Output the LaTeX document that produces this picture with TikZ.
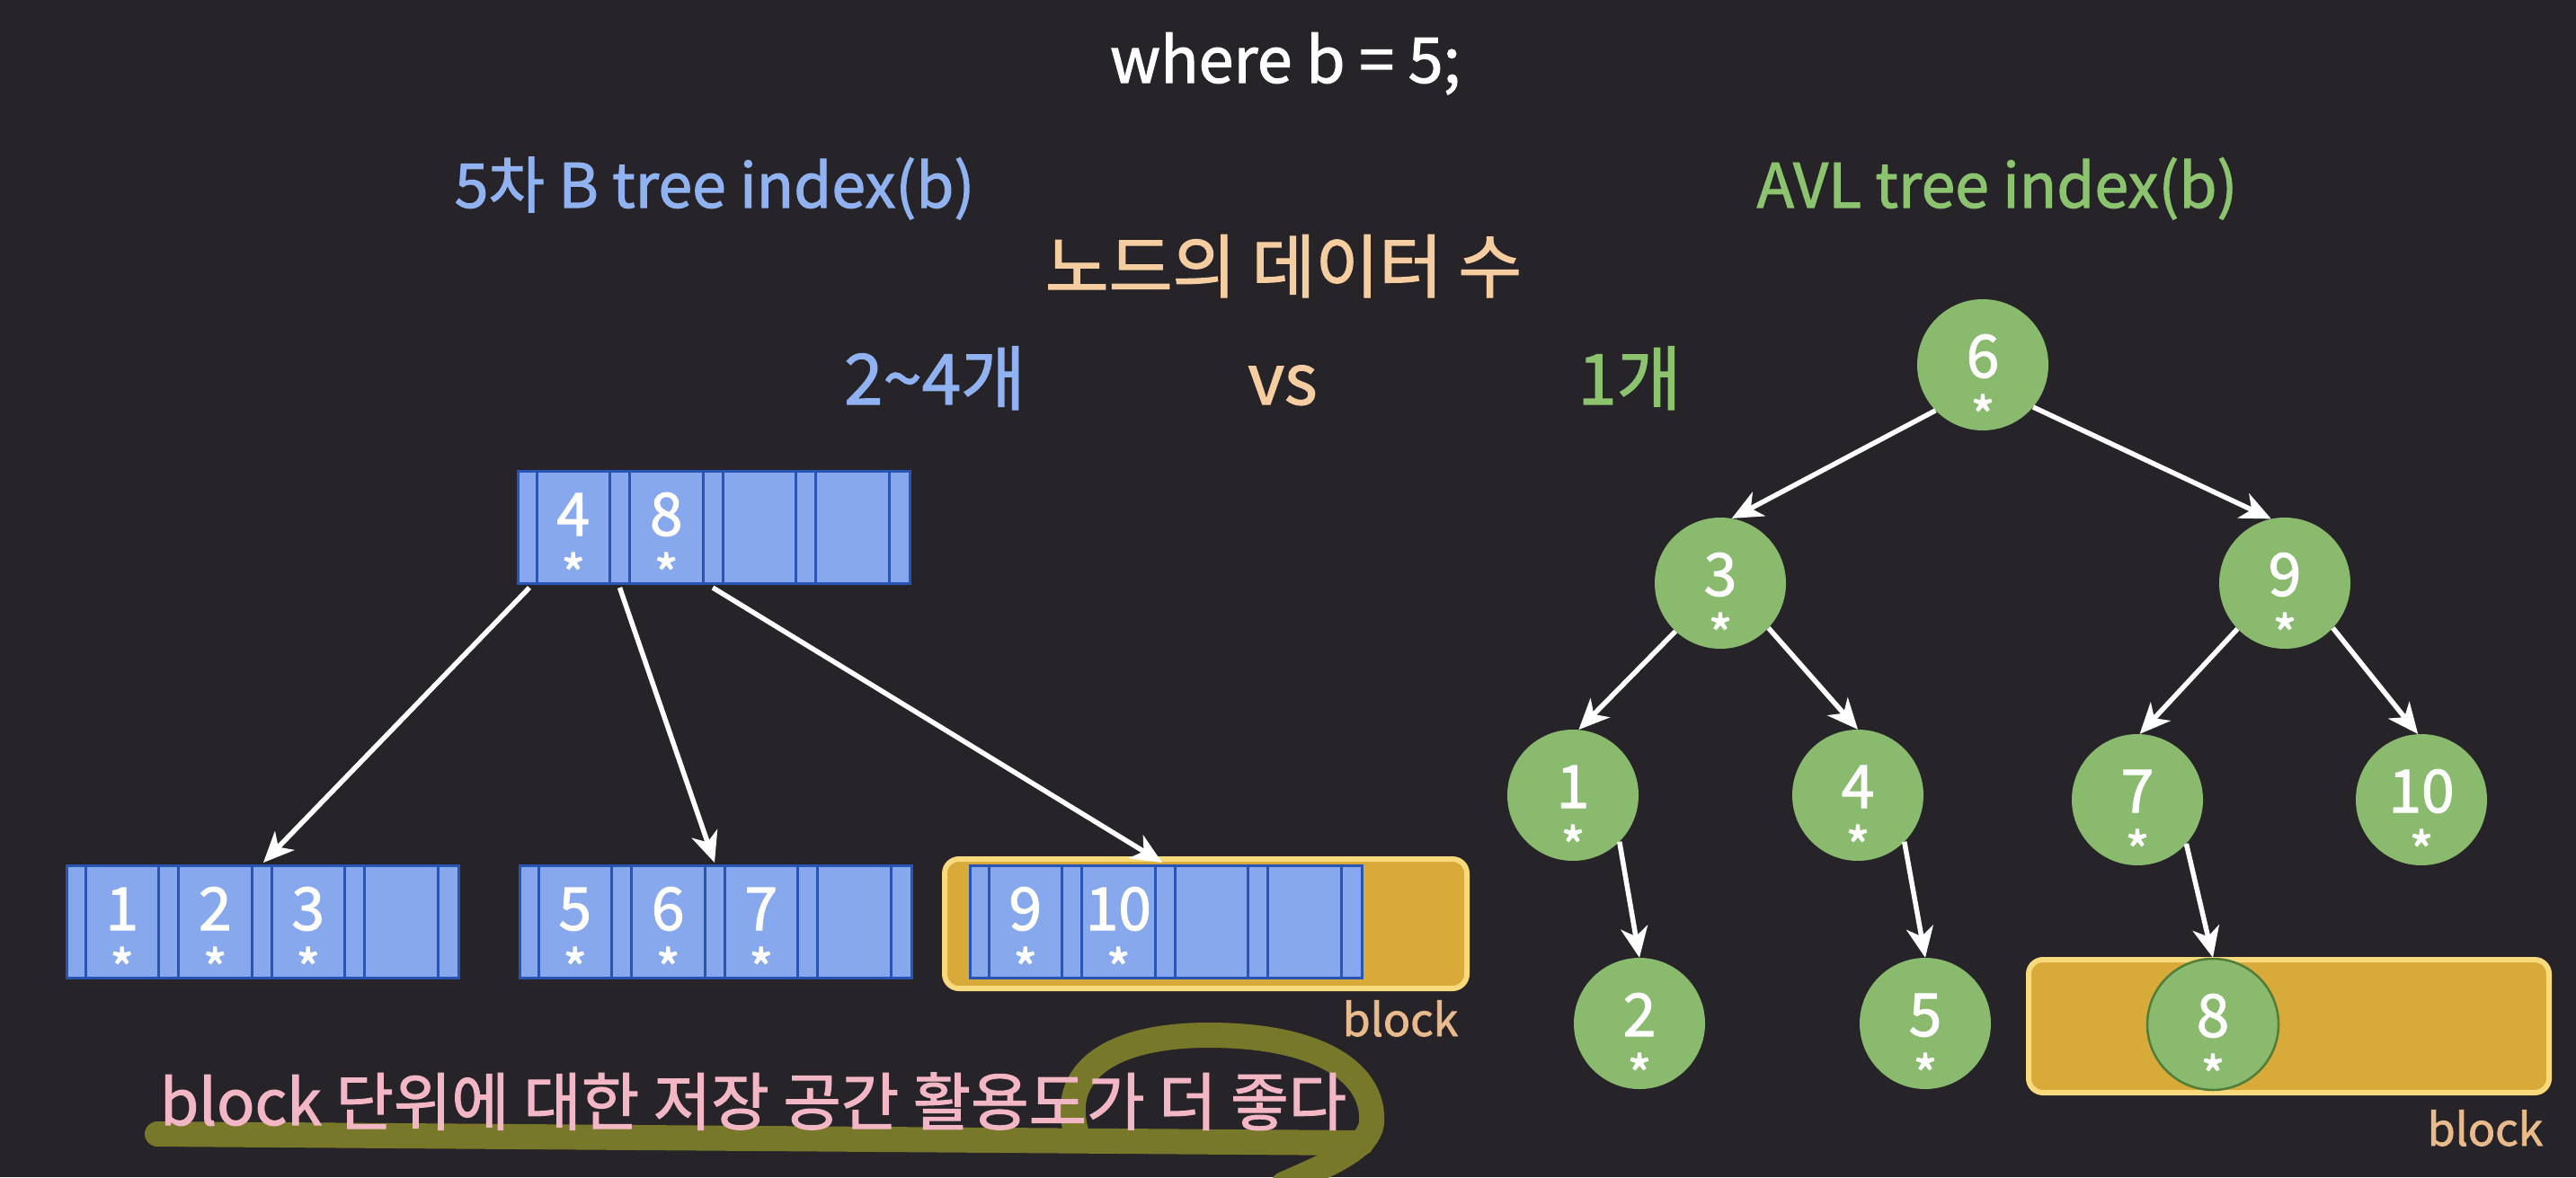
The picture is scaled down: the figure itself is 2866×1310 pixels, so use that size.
\documentclass[tikz,border=0pt]{standalone}
\usepackage{fontspec}
\setmainfont{Noto Sans CJK KR}[FakeBold=1.6]
\usetikzlibrary{arrows.meta,calc}
\definecolor{bg}{RGB}{38,36,40}
\definecolor{btxt}{RGB}{145,178,240}
\definecolor{bfill}{RGB}{135,168,236}
\definecolor{bline}{RGB}{40,85,180}
\definecolor{gtxt}{RGB}{140,195,110}
\definecolor{gfill}{RGB}{138,186,110}
\definecolor{gline}{RGB}{80,125,55}
\definecolor{tan}{RGB}{245,205,160}
\definecolor{tanb}{RGB}{233,187,140}
\definecolor{yfill}{RGB}{215,170,58}
\definecolor{yline}{RGB}{248,218,125}
\definecolor{pinkt}{RGB}{242,182,196}
\definecolor{olive}{RGB}{120,120,42}
\newcommand\bnode[3]{%
  \node[bbox] (#1) at (#2,#3) {};
  \foreach \xx in {22,103.5,125.5,207,229,310.5,332.5,414}{%
    \draw[bsep] ($(#1.north west)+(\xx,0)$) -- ($(#1.south west)+(\xx,0)$);}
  \foreach \i/\xx in {0/11,1/114.5,2/218,3/321.5,4/425}{%
    \coordinate (#1-t\i) at ($(#1.north west)+(\xx,0)$);
    \coordinate (#1-b\i) at ($(#1.south west)+(\xx,0)$);}
}
\newcommand\bkey[3]{%
  \node[keyt] at ($(#1.north west)+({62.75+103.5*#2},73)$) {#3};
  \node[astx] at ($(#1.north west)+({62.75+103.5*#2},138)$) {*};
}
\newcommand\avlnode[5][]{%
  \node[avl,#1] (#2) at (#3,#4) {};
  \node[keyt] at ($(#2)+(0,14)$) {#5};
  \node[astx] at ($(#2)+(0,79)$) {*};
}
\begin{document}
\begin{tikzpicture}[x=1pt,y=-1pt,
  bbox/.style={draw=bline, line width=3pt, fill=bfill, minimum width=436pt, minimum height=125pt, inner sep=0pt, anchor=north west},
  bsep/.style={draw=bline, line width=3pt},
  keyt/.style={text=white, font=\fontsize{66}{70}\selectfont, anchor=base, inner sep=0pt},
  astx/.style={text=white, font=\fontsize{58}{60}\selectfont, anchor=base, inner sep=0pt},
  avl/.style={circle, fill=gfill, minimum size=146pt, inner sep=0pt},
  arr/.style={draw=white, line width=5.5pt, -{Stealth[length=34pt,width=30pt,inset=10pt]}},
  blockbox/.style={fill=yfill, draw=yline, line width=6pt, rounded corners=16pt},
  hl/.style={draw=olive, line width=28pt, line cap=round, line join=round},
  txt/.style={anchor=base, inner sep=0pt}]
\fill[bg] (0,0) rectangle (2866,1310);
\useasboundingbox (0,0) rectangle (2866,1310);
% texts
\node[txt, text=white, font=\fontsize{70}{74}\selectfont] (title) at (1430,92) {where b = 5;};
\node[txt, text=btxt, font=\fontsize{68}{72}\selectfont] (bhead) at (795,231) {5차 B tree index(b)};
\node[txt, text=gtxt, font=\fontsize{68}{72}\selectfont] (ahead) at (2222,231) {AVL tree index(b)};
\node[txt, text=tan, font=\fontsize{77}{80}\selectfont] (ndata) at (1428,325) {노드의 데이터 수};
\node[txt, text=btxt, font=\fontsize{78}{82}\selectfont] (cnt1) at (1040,450) {2\textasciitilde4개};
\node[txt, text=tan, font=\fontsize{78}{82}\selectfont] (vs) at (1427,450) {vs};
\node[txt, text=gtxt, font=\fontsize{78}{82}\selectfont] (cnt2) at (1813,450) {1개};
% B tree
\node[blockbox, minimum width=581pt, minimum height=144pt, anchor=north west] (blk1) at (1048,953) {};
\bnode{root}{575}{523}
\bnode{lfa}{73}{962}
\bnode{lfb}{577}{962}
\bnode{lfc}{1078}{962}
\bkey{root}{0}{4}\bkey{root}{1}{8}
\bkey{lfa}{0}{1}\bkey{lfa}{1}{2}\bkey{lfa}{2}{3}
\bkey{lfb}{0}{5}\bkey{lfb}{1}{6}\bkey{lfb}{2}{7}
\bkey{lfc}{0}{9}\bkey{lfc}{1}{10}
\draw[arr] ($(root-b0)+(3,3)$) -- ($(lfa-t2)+(2,-2)$);
\draw[arr] ($(root-b1)+(0,3)$) -- ($(lfb-t2)+(0,-2)$);
\draw[arr] ($(root-b2)+(0,3)$) -- ($(lfc-t2)+(-3,-2)$);
\node[txt, text=tanb, font=\fontsize{50}{54}\selectfont] (bl1) at (1558,1153) {block};
% AVL tree
\node[blockbox, minimum width=579pt, minimum height=148pt, anchor=north west] (blk2) at (2254,1065) {};
\avlnode{a6}{2206}{406}{6}
\avlnode{a3}{1914}{649}{3}
\avlnode{a9}{2542}{649}{9}
\avlnode{a1}{1750}{885}{1}
\avlnode{a4}{2067}{885}{4}
\avlnode{a7}{2378}{890}{7}
\avlnode{a10}{2694}{890}{10}
\avlnode{a2}{1824}{1139}{2}
\avlnode{a5}{2142}{1139}{5}
\avlnode[draw=gline, line width=2.5pt]{a8}{2462}{1140}{8}
\draw[arr] (a6.224) -- (a3.80);
\draw[arr] (a6.320) -- (a9.102);
\draw[arr] (a3.227) -- (a1.85);
\draw[arr] (a3.317) -- (a4.90);
\draw[arr] (a9.224) -- (a7.88);
\draw[arr] (a9.317) -- (a10.93);
\draw[arr] (a1.315) -- (a2.90);
\draw[arr] (a4.315) -- (a5.90);
\draw[arr] (a7.318) -- (a8.90);
\node[txt, text=tanb, font=\fontsize{50}{54}\selectfont] (bl2) at (2765,1275) {block};
% highlight and message
\draw[hl] (175,1262) -- (1515,1272);
\draw[hl] (1200,1268) .. controls (1175,1200) and (1225,1152) .. (1345,1152) .. controls (1470,1152) and (1530,1195) .. (1526,1250) .. controls (1522,1278) and (1480,1295) .. (1428,1318);
\node[txt, text=pinkt, font=\fontsize{70}{74}\selectfont] (msg) at (838,1252) {block 단위에 대한 저장 공간 활용도가 더 좋다};
\end{tikzpicture}
\end{document}
